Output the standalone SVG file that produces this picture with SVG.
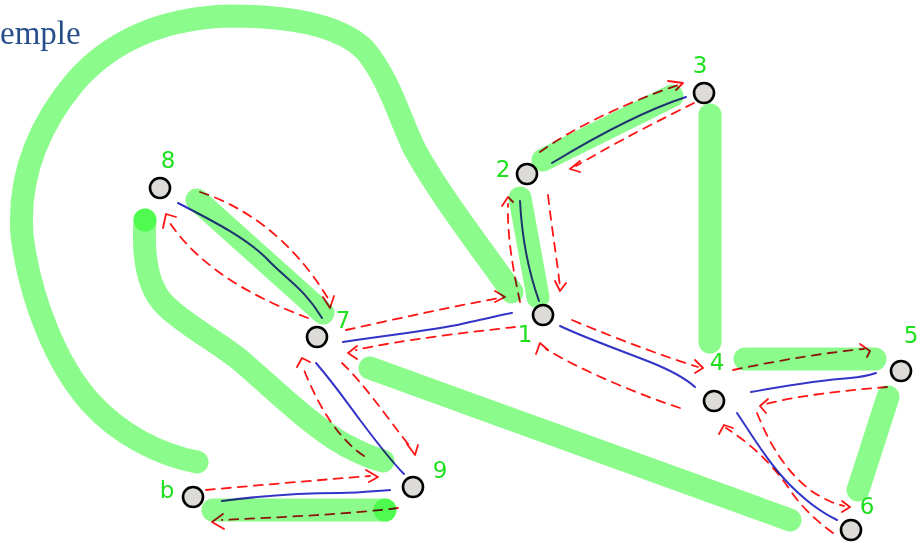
<svg xmlns="http://www.w3.org/2000/svg" width="920" height="544" viewBox="0 0 920 544">
<style>
.hl{fill:none;stroke:rgb(12,249,12);stroke-opacity:0.48;stroke-width:23;stroke-linecap:round;stroke-linejoin:round}
.dot{fill:rgb(12,249,12);fill-opacity:0.48}
.bl{fill:none;stroke:#3434c8;stroke-width:2;stroke-linecap:round;mix-blend-mode:multiply}
.rd{fill:none;stroke:#ff1414;stroke-width:1.8;stroke-dasharray:9 7;stroke-linecap:round;mix-blend-mode:multiply}
.ah{fill:none;stroke:#ff1414;stroke-width:1.8;stroke-linecap:round;stroke-linejoin:round;mix-blend-mode:multiply}
.nd{fill:#dcdbd7;stroke:#000;stroke-width:2.6}
.lb{font-family:"DejaVu Sans","Liberation Sans",sans-serif;font-size:23px;fill:#1ee01e;text-anchor:middle}
.tt{font-family:"Liberation Serif",serif;font-size:33px;fill:#264f8a}
</style>
<text class="tt" x="0" y="44">emple</text>
<g id="connectors">
  <g id="highlights">
    <path class="hl" d="M197,462 C160,455 120,435 90,402 C57,365 30,300 22,235 C18,180 35,130 75,82 C110,42 160,18 230,16 C290,16 340,25 365,50 C390,80 400,120 415,150 C440,195 475,240 512,292"/>
    <path class="hl" d="M145,220 C143,250 145,285 165,305 C185,325 215,340 240,360 C275,390 310,425 345,445 C360,453 372,458 383,461"/>
    <circle class="dot" cx="145" cy="220" r="11.5"/>
    <path class="hl" d="M197,200 L323,313"/>
    <path class="hl" d="M370,368 L790,520"/>
    <path class="hl" d="M213,510 L385,510"/>
    <circle class="dot" cx="385" cy="510" r="11.5"/>
    <path class="hl" d="M520,198 L538,297"/>
    <path class="hl" d="M543,160 L672,96"/>
    <path class="hl" d="M710,115 L710,342"/>
    <path class="hl" d="M745,359 L875,359"/>
    <path class="hl" d="M888,397 L858,490"/>
  </g>
  <g id="ink-blue">
    <path class="bl" d="M178,203 C215,222 250,240 270,262 C290,282 305,290 322,318"/>
    <path class="bl" d="M343,342 C400,333 440,330 470,322 C490,318 500,315 512,313"/>
    <path class="bl" d="M316,363 C335,385 345,400 360,420 C375,440 390,460 404,474"/>
    <path class="bl" d="M222,501 C260,496 300,493 340,493 C360,493 375,491 390,490"/>
    <path class="bl" d="M520,201 C522,240 528,270 539,301"/>
    <path class="bl" d="M552,163 C590,140 640,112 686,97"/>
    <path class="bl" d="M560,326 C590,340 620,350 650,362 C670,370 685,378 695,387"/>
    <path class="bl" d="M751,392 C790,385 820,380 850,378 C862,377 870,375 876,373"/>
    <path class="bl" d="M737,413 C755,440 770,465 790,485 C805,500 820,512 837,520"/>
  </g>
  <g id="ink-red">
    <path class="rd" d="M200,192 C240,205 290,235 329,300"/>
    <path class="ah" d="M323,297 L330,308 L334,296"/>
    <path class="rd" d="M308,318 C260,300 200,270 168,220"/>
    <path class="ah" d="M163,228 L166,214 L176,217"/>
    <path class="rd" d="M346,330 C400,318 460,305 500,298"/>
    <path class="ah" d="M495,291 L505,297 L495,302"/>
    <path class="rd" d="M515,327 C470,332 400,340 356,350"/>
    <path class="ah" d="M357,346 L348,353 L357,359"/>
    <path class="rd" d="M364,456 C340,440 320,410 304,370"/>
    <path class="ah" d="M297,367 L302,358 L310,362"/>
    <path class="rd" d="M342,363 C365,385 385,415 412,449"/>
    <path class="ah" d="M407,444 L415,455 L418,445"/>
    <path class="rd" d="M206,490 C260,485 320,480 370,476"/>
    <path class="ah" d="M366,470 L378,477 L369,482"/>
    <path class="rd" d="M398,508 C340,515 280,517 222,520"/>
    <path class="ah" d="M223,514 L212,522 L224,529"/>
    <path class="rd" d="M520,302 C513,270 507,235 508,204"/>
    <path class="ah" d="M502,206 L508,197 L513,202"/>
    <path class="rd" d="M548,195 C552,230 557,260 560,287"/>
    <path class="ah" d="M555,281 L560,291 L566,283"/>
    <path class="rd" d="M540,152 C570,130 620,105 678,85"/>
    <path class="ah" d="M668,81 L683,83 L676,90"/>
    <path class="rd" d="M694,103 C660,120 620,140 576,166"/>
    <path class="ah" d="M580,161 L570,169 L580,172"/>
    <path class="rd" d="M572,320 C620,340 660,355 698,367"/>
    <path class="ah" d="M695,360 L703,368 L695,373"/>
    <path class="rd" d="M680,408 C640,395 580,370 546,349"/>
    <path class="ah" d="M536,354 L540,343 L548,350"/>
    <path class="rd" d="M733,370 C780,360 830,352 864,349"/>
    <path class="ah" d="M860,344 L870,351 L867,357"/>
    <path class="rd" d="M887,387 C850,390 800,395 766,404"/>
    <path class="ah" d="M768,399 L760,406 L766,413"/>
    <path class="rd" d="M833,533 C815,520 800,505 790,490 C770,460 745,440 726,428"/>
    <path class="ah" d="M719,434 L724,425 L733,428"/>
    <path class="rd" d="M757,413 C770,445 785,470 810,490 C825,500 835,504 844,506"/>
    <path class="ah" d="M842,501 L850,507 L842,512"/>
  </g>
</g>
<g id="node-8"><circle class="nd" cx="160" cy="188" r="10"/><text class="lb" x="168" y="168">8</text></g>
<g id="node-7"><circle class="nd" cx="317" cy="337" r="10"/><text class="lb" x="343" y="328">7</text></g>
<g id="node-2"><circle class="nd" cx="527" cy="174" r="10"/><text class="lb" x="503" y="177">2</text></g>
<g id="node-3"><circle class="nd" cx="704" cy="93" r="10"/><text class="lb" x="700" y="73">3</text></g>
<g id="node-1"><circle class="nd" cx="543" cy="315" r="10"/><text class="lb" x="525" y="342">1</text></g>
<g id="node-4"><circle class="nd" cx="714" cy="401" r="10"/><text class="lb" x="717" y="370">4</text></g>
<g id="node-5"><circle class="nd" cx="901" cy="371" r="10"/><text class="lb" x="911" y="343">5</text></g>
<g id="node-6"><circle class="nd" cx="851" cy="530" r="10"/><text class="lb" x="867" y="514">6</text></g>
<g id="node-9"><circle class="nd" cx="413" cy="487" r="10"/><text class="lb" x="440" y="478">9</text></g>
<g id="node-b"><circle class="nd" cx="193" cy="497" r="10"/><text class="lb" x="167" y="498">b</text></g>
</svg>
